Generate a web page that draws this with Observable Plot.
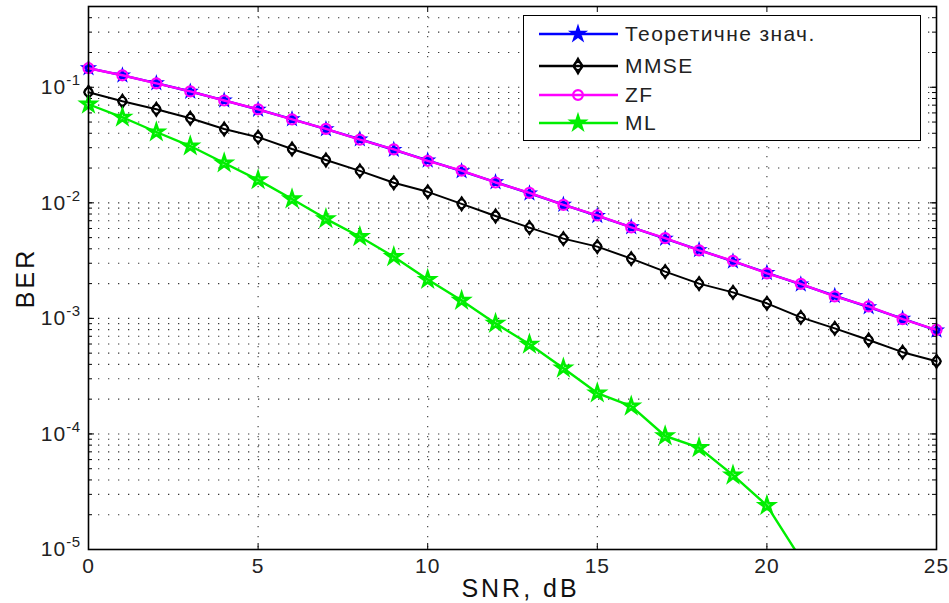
<!DOCTYPE html>
<html><head><meta charset="utf-8">
<script src="https://cdn.jsdelivr.net/npm/d3@7"></script>
<script src="https://cdn.jsdelivr.net/npm/@observablehq/plot@0.6"></script>
<style>
body{margin:0;background:#fff;font-family:"Liberation Sans",Arial,sans-serif}
#wrap{position:relative;width:949px;height:603px}
#legend{position:absolute;left:523px;top:15px;width:396px;height:124px;border:1.5px solid #000;background:#fff}
.row{position:absolute;left:0;height:30px;display:flex;align-items:center}
.row span{font-size:21px;letter-spacing:1.4px;color:#222;margin-left:3px;font-family:"Liberation Sans",Arial,sans-serif}
</style></head><body><div id="wrap"></div>
<script>
const snr = [0,1,2,3,4,5,6,7,8,9,10,11,12,13,14,15,16,17,18,19,20,21,22,23,24,25];
const theory = [0.1464,0.1267,0.1085,0.0919,0.0771,0.0642,0.0530,0.0435,0.0355,0.0288,0.0233,0.0188,0.0151,0.0121,0.00966,0.00772,0.00616,0.00491,0.00391,0.00311,0.00248,0.00197,0.00157,0.00125,0.000994,0.000789];
const zf = [0.1462,0.1270,0.1082,0.0921,0.0768,0.0645,0.0527,0.0437,0.0352,0.0290,0.0231,0.0190,0.0150,0.0122,0.00960,0.00778,0.00612,0.00495,0.00388,0.00315,0.00245,0.00199,0.00155,0.00127,0.000985,0.000795];
const mmse = [0.0906,0.0757,0.0646,0.0540,0.0435,0.0370,0.0292,0.0235,0.0189,0.0149,0.01245,0.0098,0.0077,0.0061,0.0049,0.00418,0.00329,0.00254,0.0020,0.00168,0.00135,0.00102,0.00082,0.00065,0.00051,0.000425];
const ml = [0.0713,0.055,0.041,0.031,0.0221,0.0158,0.0108,0.00727,0.00509,0.00342,0.00217,0.00143,0.000905,0.000597,0.000371,0.000226,0.000174,0.000096,0.000076,0.000044,0.000024,0.0000083];
const seriesNames = ["Теоретичне знач.","MMSE","ZF","ML"];
const xTicks = [0,5,10,15,20,25];
const yTicks = [1e-5,1e-4,1e-3,1e-2,1e-1];
const yExp = ["-5","-4","-3","-2","-1"];
const yMinor = yTicks.flatMap(d => [1,2,3,4,5,6,7,8,9].map(k => d*k)).filter(v => v > 1e-5 && v <= 0.5);

const W = 949, H = 603, mL = 88, mR = 13, mT = 6, mB = 54;
const fw = W - mL - mR, fh = H - mT - mB;

const pts = (arr) => arr.map((v,i) => ({x: snr[i], y: v}));
const T = pts(theory), Z = pts(zf), M = pts(mmse), L = pts(ml);
const Lvis = L.filter(d => d.y >= 1e-5);

// tall MATLAB-like diamond
const tallDiamond = {draw(ctx, size){ const r = Math.sqrt(size/Math.PI); const w = 0.85*r, h = 1.35*r;
  ctx.moveTo(0,-h); ctx.lineTo(w,0); ctx.lineTo(0,h); ctx.lineTo(-w,0); ctx.closePath(); }};

const grid = {stroke:"#222", strokeWidth:1.1, strokeDasharray:"1.3,8.7", strokeOpacity:0.9};

const chart = Plot.plot({
  width: W, height: H, marginLeft: mL, marginRight: mR, marginTop: mT, marginBottom: mB,
  x: {domain:[0,25]},
  y: {type:"log", domain:[1e-5,0.5]},
  style: {fontFamily:"Liberation Sans, Arial, sans-serif", color:"#222", background:"#fff"},
  marks: [
    Plot.ruleY(yMinor, {...grid}),
    Plot.ruleX([5,10,15,20], {...grid}),
    Plot.ruleX(xTicks, {stroke:"#000", insetTop: fh-6}),
    Plot.ruleX(xTicks, {stroke:"#000", insetBottom: fh-6}),
    Plot.ruleY(yTicks, {stroke:"#000", insetRight: fw-6}),
    Plot.ruleY(yTicks, {stroke:"#000", insetLeft: fw-6}),
    Plot.ruleY(yMinor, {stroke:"#000", insetRight: fw-4}),
    Plot.ruleY(yMinor, {stroke:"#000", insetLeft: fw-4}),
    Plot.line(T, {x:"x", y:"y", stroke:"#0000ff", strokeWidth:2.4}),
    Plot.dot(T, {x:"x", y:"y", symbol:"star", r:4, fill:"#0000ff", stroke:"#0000ff", strokeWidth:1.5}),
    Plot.line(Z, {x:"x", y:"y", stroke:"#ff00ff", strokeWidth:2.4}),
    Plot.dot(Z, {x:"x", y:"y", symbol:"circle", r:5, fill:"none", stroke:"#ff00ff", strokeWidth:2.2}),
    Plot.line(M, {x:"x", y:"y", stroke:"#000", strokeWidth:2}),
    Plot.dot(M, {x:"x", y:"y", symbol:"circle", r:4.2, fill:"none", stroke:"#000", strokeWidth:1.8}),
    Plot.dot(M, {x:"x", y:"y", symbol:tallDiamond, r:5, fill:"none", stroke:"#000", strokeWidth:1.8}),
    Plot.line(L, {x:"x", y:"y", stroke:"#00ee00", strokeWidth:2.4, clip:true}),
    Plot.dot(Lvis, {x:"x", y:"y", symbol:"star", r:4.5, fill:"#00ee00", fillOpacity:0.4, stroke:"#00ee00", strokeWidth:2.6}),
    Plot.frame({stroke:"#000", strokeWidth:1.6}),
    Plot.axisX({ticks: xTicks, tickSize:0, tickPadding:9, fontSize:21, label:"SNR, dB", labelAnchor:"center", labelOffset:47}),
    Plot.axisY({ticks: yTicks, tickSize:0, tickPadding:8, fontSize:21, tickFormat: d => "10^" + yExp[yTicks.indexOf(d)], label:"BER", labelAnchor:"center", labelOffset:72})
  ]
});

chart.querySelectorAll('g[aria-label="y-axis tick label"], g[aria-label="x-axis tick label"]').forEach(g => {
  g.setAttribute("letter-spacing","1");
});
chart.querySelectorAll('g[aria-label="y-axis tick label"] text').forEach(t => {
  const parts = t.textContent.split("^");
  t.textContent = parts[0];
  const ts = document.createElementNS("http://www.w3.org/2000/svg","tspan");
  ts.setAttribute("dy","-9"); ts.setAttribute("font-size","15"); ts.setAttribute("letter-spacing","0.5"); ts.textContent = parts[1];
  t.appendChild(ts);
});
chart.querySelectorAll('g[aria-label="x-axis label"], g[aria-label="y-axis label"]').forEach(g => {
  g.setAttribute("font-size","25"); g.setAttribute("letter-spacing","3"); g.setAttribute("fill","#111");
  g.querySelectorAll("text").forEach(t => { t.textContent = t.textContent.replace(/\s*[→↑←↓]\s*/g, "").trim(); t.setAttribute("font-size","25"); });
});
chart.querySelectorAll('g[aria-label="x-axis label"] text').forEach(t => t.setAttribute("dx", "8"));

const wrap = document.getElementById("wrap");
wrap.appendChild(chart);

// legend
const leg = document.createElement("div"); leg.id = "legend";
const ns = "http://www.w3.org/2000/svg";
const specs = [
  {color:"#0000ff", syms:[{t:d3.symbolStar, s:55, fill:"#0000ff"}]},
  {color:"#000", syms:[{t:d3.symbolCircle, s:50, fill:"none"},{t:d3.symbolDiamond, s:60, fill:"none"}]},
  {color:"#ff00ff", syms:[{t:d3.symbolCircle, s:75, fill:"none"}]},
  {color:"#00ee00", syms:[{t:d3.symbolStar, s:65, fill:"#00ee00"}]}
];
const rowTops = [3, 35, 64, 92];
specs.forEach((sp, i) => {
  const row = document.createElement("div"); row.className = "row"; row.style.top = rowTops[i] + "px";
  const s = document.createElementNS(ns, "svg"); s.setAttribute("width", 98); s.setAttribute("height", 30);
  const ln = document.createElementNS(ns, "line");
  ln.setAttribute("x1", 15); ln.setAttribute("x2", 94); ln.setAttribute("y1", 15); ln.setAttribute("y2", 15);
  ln.setAttribute("stroke", sp.color); ln.setAttribute("stroke-width", 2.4);
  s.appendChild(ln);
  sp.syms.forEach(m => {
    const p = document.createElementNS(ns, "path");
    p.setAttribute("d", d3.symbol(m.t, m.s)());
    p.setAttribute("transform", "translate(54,15)");
    p.setAttribute("fill", m.fill); p.setAttribute("stroke", sp.color); p.setAttribute("stroke-width", 2.2);
    s.appendChild(p);
  });
  row.appendChild(s);
  const tx = document.createElement("span"); tx.textContent = seriesNames[i];
  row.appendChild(tx);
  leg.appendChild(row);
});
wrap.appendChild(leg);
</script></body></html>
